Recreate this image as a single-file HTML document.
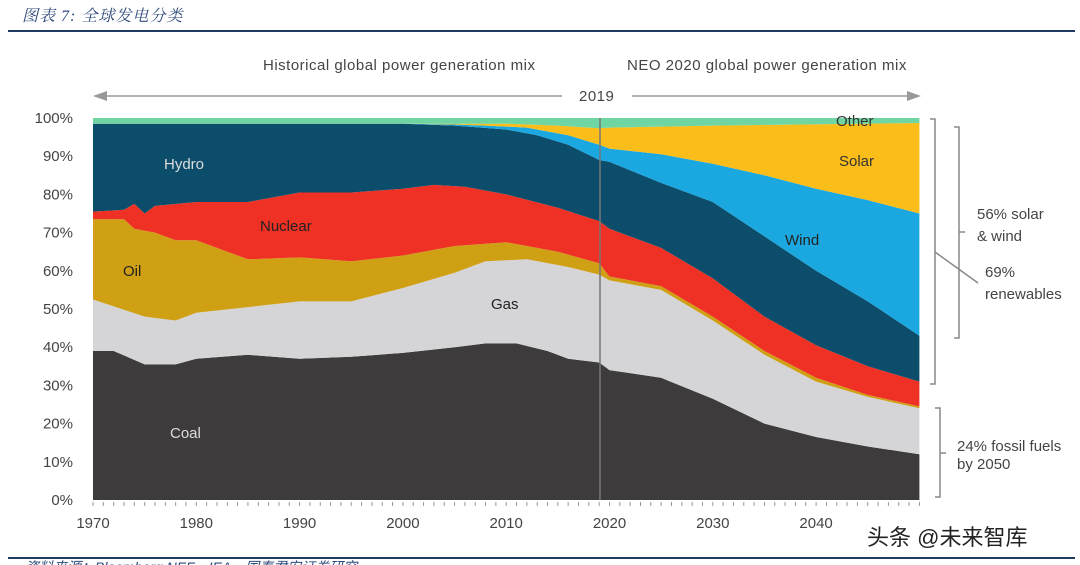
<!DOCTYPE html>
<html><head><meta charset="utf-8"><style>
body{margin:0;background:#fff;width:1080px;height:565px;overflow:hidden;font-family:"Liberation Sans","Noto Sans CJK SC",sans-serif}
</style></head><body>
<svg id="s" width="1080" height="565" xmlns="http://www.w3.org/2000/svg" style="position:absolute;left:0;top:0">
<text x="22" y="21" font-size="16" fill="#2f4b7c" font-style="italic" font-family="Liberation Serif,Noto Serif CJK SC,serif" letter-spacing="1">图表 7:  全球发电分类</text>
<line x1="8" y1="31" x2="1075" y2="31" stroke="#1f3a5f" stroke-width="2"/>
<line x1="8" y1="558" x2="1075" y2="558" stroke="#1f3a5f" stroke-width="2"/>
<text x="25" y="572" font-size="14" fill="#2f4b7c" font-style="italic">资料来源：Bloomberg NEF，IEA，国泰君安证券研究</text>
<g id="areas"></g>
<g font-size="15" fill="#444" letter-spacing="0.5">
<text x="263" y="70">Historical global power generation mix</text>
<text x="627" y="70">NEO 2020  global power generation mix</text>
<text x="579" y="101">2019</text>
</g>
<line x1="104" y1="96" x2="562" y2="96" stroke="#999" stroke-width="1.5"/>
<polygon points="93,96 107,91 107,101" fill="#999"/>
<line x1="632" y1="96" x2="910" y2="96" stroke="#999" stroke-width="1.5"/>
<polygon points="921,96 907,91 907,101" fill="#999"/>
<g font-size="15" fill="#444" text-anchor="end" id="ylab"></g>
<g font-size="15" fill="#444" text-anchor="middle" id="xlab"></g>
<g id="ticks" stroke="#999" stroke-width="1"></g>
<line x1="600" y1="118" x2="600" y2="500" stroke="#777" stroke-width="1.5"/>
<g font-size="15">
<text x="164" y="169" fill="#ddd">Hydro</text>
<text x="260" y="231" fill="#222">Nuclear</text>
<text x="123" y="276" fill="#222">Oil</text>
<text x="491" y="309" fill="#222">Gas</text>
<text x="170" y="438" fill="#ddd">Coal</text>
<text x="785" y="245" fill="#222">Wind</text>
<text x="839" y="166" fill="#333">Solar</text>
<text x="836" y="126" fill="#333">Other</text>
<text x="977" y="219" fill="#444">56% solar</text>
<text x="977" y="241" fill="#444">&amp; wind</text>
<text x="985" y="277" fill="#444">69%</text>
<text x="985" y="299" fill="#444">renewables</text>
<text x="957" y="451" fill="#444">24% fossil fuels</text>
<text x="957" y="469" fill="#444">by 2050</text>
</g>
<g stroke="#888" stroke-width="1.5" fill="none">
<polyline points="930,119 935,119 935,384 930,384"/>
<line x1="935" y1="252" x2="978" y2="283"/>
<polyline points="954,127 959,127 959,338 954,338"/>
<line x1="959" y1="232" x2="965" y2="232"/>
<polyline points="935,408 940,408 940,497 935,497"/>
<line x1="940" y1="453" x2="946" y2="453"/>
</g>
<text x="867" y="545" font-size="22" fill="#222">头条 @未来智库</text>
</svg>
<script>
const X=y=>93+(y-1970)*10.33, Y=v=>500-3.82*v;
const B=[
 [[1970,39],[1972,39],[1975,35.5],[1978,35.5],[1980,37],[1985,38],[1990,37],[1995,37.5],[2000,38.5],[2005,40],[2008,41],[2011,41],[2014,39],[2016,37],[2019,36],[2020,34],[2025,32],[2030,26.5],[2035,20],[2040,16.5],[2045,14],[2050,12]],
 [[1970,52.5],[1975,48],[1978,47],[1980,49],[1985,50.5],[1990,52],[1995,52],[2000,55.5],[2005,59.5],[2008,62.5],[2012,63],[2016,61],[2019,59],[2020,57.5],[2025,55],[2030,47],[2035,38],[2040,31],[2045,27],[2050,24]],
 [[1970,73.5],[1973,73.5],[1974,71],[1976,70],[1978,68],[1980,68],[1985,63],[1990,63.5],[1995,62.5],[2000,64],[2005,66.5],[2010,67.5],[2015,65],[2019,62],[2020,58.5],[2025,56],[2030,48],[2035,39],[2040,32],[2045,27.5],[2050,24.5]],
 [[1970,75.5],[1973,76],[1974,77.5],[1975,75],[1976,77],[1980,78],[1985,78],[1990,80.5],[1995,80.5],[2000,81.5],[2003,82.5],[2006,82],[2010,80],[2015,76.5],[2019,73],[2020,71],[2025,66],[2030,58],[2035,48],[2040,40.5],[2045,35],[2050,31]],
 [[1970,98.5],[2000,98.5],[2005,98],[2010,97],[2013,95.5],[2016,93],[2019,89],[2020,88.5],[2025,83],[2030,78],[2035,69],[2040,60],[2045,52],[2050,43]],
 [[1970,98.5],[2000,98.5],[2005,98.3],[2008,98],[2012,97.5],[2016,95.5],[2019,93],[2020,92],[2025,90.5],[2030,88],[2035,85],[2040,81.5],[2045,78.5],[2050,75]],
 [[1970,98.5],[2005,98.5],[2010,98.5],[2015,98],[2019,97.3],[2020,97.5],[2030,98],[2050,98.7]],
 [[1970,100],[2050,100]]
];
const C=["#3d3b3c","#d5d5d7","#cf9f14","#ee3124","#0b4d6a","#1ba8e0","#fbbd19","#6fd6a3"];
let h='';
for(let i=0;i<B.length;i++){
 const top=B[i].map(p=>X(p[0]).toFixed(1)+','+Y(p[1]).toFixed(1));
 const bot=i==0?[X(2050)+','+Y(0),X(1970)+','+Y(0)]:B[i-1].slice().reverse().map(p=>X(p[0]).toFixed(1)+','+Y(p[1]).toFixed(1));
 h+=`<polygon points="${top.concat(bot).join(' ')}" fill="${C[i]}"/>`;
}
document.getElementById('areas').innerHTML=h;
let yl='';for(let v=0;v<=100;v+=10)yl+=`<text x="73" y="${Y(v)+5}">${v}%</text>`;
document.getElementById('ylab').innerHTML=yl;
let xl='';for(let y=1970;y<=2040;y+=10)xl+=`<text x="${X(y)}" y="528">${y}</text>`;
document.getElementById('xlab').innerHTML=xl;
let t='';for(let y=1970;y<=2050;y++)t+=`<line x1="${X(y)}" y1="502" x2="${X(y)}" y2="506"/>`;
document.getElementById('ticks').innerHTML=t;
</script>
</body></html>
